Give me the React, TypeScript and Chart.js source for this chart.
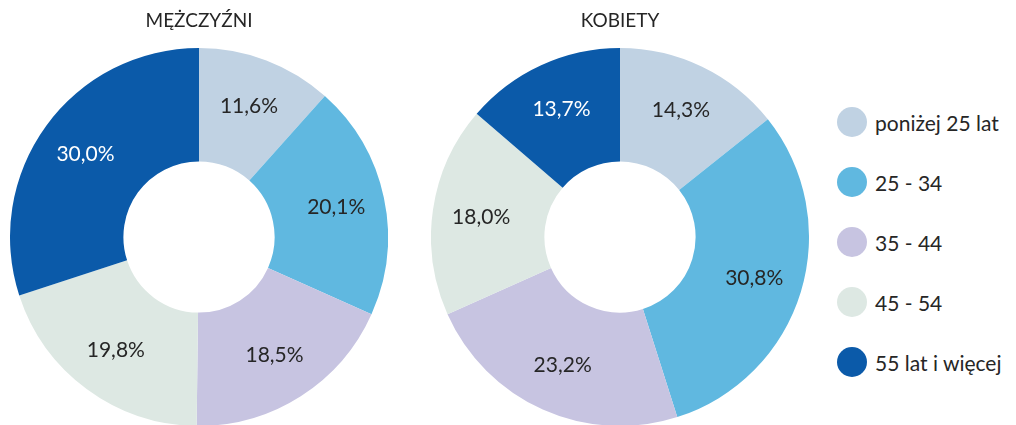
import React, { useEffect, useRef } from "react";
import { Chart, registerables } from "chart.js";

Chart.register(...registerables);

const categories = ["poniżej 25 lat", "25 - 34", "35 - 44", "45 - 54", "55 lat i więcej"];
const menValues = [11.6, 20.1, 18.5, 19.8, 30.0];
const womenValues = [14.3, 30.8, 23.2, 18.0, 13.7];
const titles = ["MĘŻCZYŹNI", "KOBIETY"];
const colors = ["#C0D2E3", "#60B8E0", "#C7C4E1", "#DDE8E3", "#0B5AA9"];
const labelColors = ["#262626", "#262626", "#262626", "#262626", "#FFFFFF"];

const FONT = "Lato, 'Open Sans', sans-serif";
const TEXT = "#262626";

const labelPlugin = {
  id: "sliceLabels",
  afterDatasetsDraw(chart: any) {
    const ctx = chart.ctx;
    const meta = chart.getDatasetMeta(0);
    const data = chart.data.datasets[0].data as number[];
    ctx.save();
    ctx.font = `21px ${FONT}`;
    ctx.textAlign = "center";
    ctx.textBaseline = "middle";
    meta.data.forEach((arc: any, i: number) => {
      const { x, y, startAngle, endAngle, innerRadius, outerRadius } = arc.getProps(
        ["x", "y", "startAngle", "endAngle", "innerRadius", "outerRadius"],
        true
      );
      const mid = (startAngle + endAngle) / 2;
      const r = (innerRadius + outerRadius) / 2 + 8;
      const txt = data[i].toFixed(1).replace(".", ",") + "%";
      ctx.fillStyle = labelColors[i];
      ctx.fillText(txt, x + Math.cos(mid) * r, y + Math.sin(mid) * r);
    });
    ctx.restore();
  },
};

function Donut({ values, title, left }: { values: number[]; title: string; left: number }) {
  const ref = useRef<HTMLCanvasElement | null>(null);
  useEffect(() => {
    if (!ref.current) return;
    const chart = new Chart(ref.current, {
      type: "doughnut",
      data: {
        labels: categories,
        datasets: [
          {
            data: values,
            backgroundColor: colors,
            borderWidth: 0,
            hoverOffset: 0,
            offset: 0,
          },
        ],
      },
      options: {
        responsive: false,
        animation: false,
        cutout: "40%",
        layout: { padding: 0 },
        plugins: {
          legend: { display: false },
          tooltip: { enabled: false },
          title: {
            display: true,
            text: title,
            color: TEXT,
            font: { family: FONT, size: 19, weight: "normal", lineHeight: 1.2 },
            padding: { top: 9, bottom: 16.2 },
          },
        },
      },
      plugins: [labelPlugin],
    });
    return () => chart.destroy();
  }, [values, title]);
  return (
    <canvas
      ref={ref}
      width={378}
      height={426}
      style={{ position: "absolute", left, top: 0, width: 378, height: 426 }}
    />
  );
}

export default function App() {
  return (
    <div
      style={{
        position: "absolute",
        left: 0,
        top: 0,
        width: 1016,
        height: 425,
        overflow: "hidden",
        background: "#ffffff",
      }}
    >
      <Donut values={menValues} title={titles[0]} left={10} />
      <Donut values={womenValues} title={titles[1]} left={431} />
      {categories.map((c, i) => (
        <div
          key={c}
          style={{
            position: "absolute",
            left: 837,
            top: 107 + i * 60,
            height: 30,
            display: "flex",
            alignItems: "center",
            whiteSpace: "nowrap",
            fontFamily: FONT,
            fontSize: 21,
            color: TEXT,
          }}
        >
          <span
            style={{
              display: "inline-block",
              width: 30,
              height: 30,
              borderRadius: "50%",
              background: colors[i],
              marginRight: 8,
            }}
          />
          <span>{c}</span>
        </div>
      ))}
    </div>
  );
}
